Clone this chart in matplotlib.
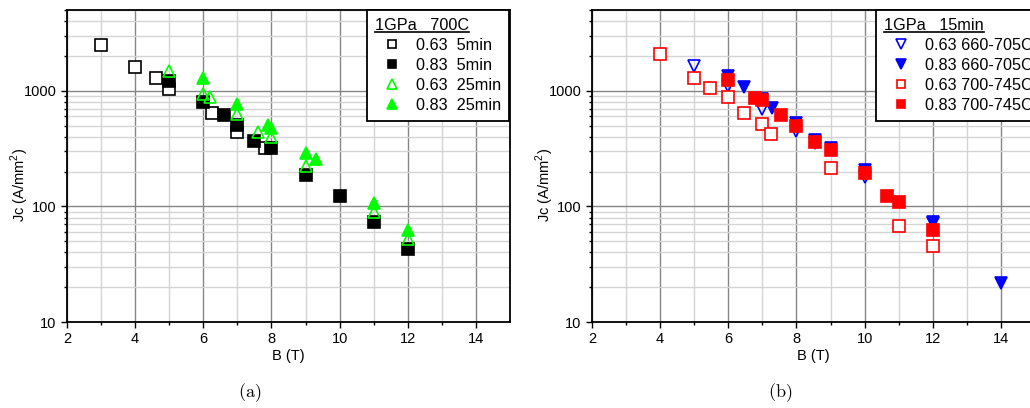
import matplotlib
matplotlib.use("Agg")
import matplotlib.pyplot as plt
from matplotlib.ticker import FixedLocator, NullFormatter, FuncFormatter
from matplotlib.lines import Line2D

plt.rcParams['font.family'] = ['Liberation Sans', 'DejaVu Sans']
plt.rcParams['mathtext.fontset'] = 'custom'
plt.rcParams['mathtext.rm'] = 'Liberation Sans'

# ---- data (a): 1GPa 700C ----
a_title = "1GPa   700C"
a_labels = ["0.63  5min", "0.83  5min", "0.63  25min", "0.83  25min"]
a_B_063_5 = [3, 4, 4.6, 5, 6.25, 7, 7.8]
a_J_063_5 = [2500, 1600, 1280, 1040, 640, 443, 318]
a_B_083_5 = [5, 6, 6.6, 7, 7.5, 8, 9, 10, 11, 12]
a_J_083_5 = [1220, 807, 615, 506, 370, 318, 188, 123, 74, 43]
a_B_063_25 = [5, 6, 6.2, 7, 7.6, 8, 9, 11, 12]
a_J_063_25 = [1470, 940, 880, 630, 440, 395, 223, 89, 52]
a_B_083_25 = [6, 7, 7.9, 8, 9, 9.3, 11, 12]
a_J_083_25 = [1300, 770, 506, 480, 291, 255, 107, 63]

# ---- data (b): 1GPa 15min ----
b_title = "1GPa   15min"
b_labels = ["0.63 660-705C", "0.83 660-705C", "0.63 700-745C", "0.83 700-745C"]
b_B_063_660 = [5, 6, 7, 8, 8.55, 10, 12]
b_J_063_660 = [1650, 1090, 697, 452, 355, 180, 72]
b_B_083_660 = [6, 6.47, 7, 7.28, 8, 8.55, 9, 10, 12, 14]
b_J_083_660 = [1330, 1069, 850, 716, 524, 375, 321, 205, 74, 21.7]
b_B_063_700 = [4, 5, 5.45, 6, 6.45, 7, 7.26, 9, 11, 12]
b_J_063_700 = [2070, 1290, 1062, 892, 647, 513, 425, 213, 68, 45]
b_B_083_700 = [6, 6.77, 7, 7.56, 8, 8.55, 9, 10, 10.65, 11, 12]
b_J_083_700 = [1247, 864, 835, 615, 496, 363, 307, 195, 123, 110, 63]

x_ticks = [2, 4, 6, 8, 10, 12, 14]
x_minor = [3, 5, 7, 9, 11, 13]
y_ticks = [10, 100, 1000]

W, H = 1030, 408
fig = plt.figure(figsize=(W / 100, H / 100), dpi=100)

def px_axes(l, r, t, b):
    return fig.add_axes([l / W, 1 - b / H, (r - l) / W, (b - t) / H])

ax1 = px_axes(67, 510, 10, 322)
ax2 = px_axes(592, 1035, 10, 322)

def style(ax):
    ax.set_yscale('log')
    ax.set_xlim(2, 15)
    ax.set_ylim(10, 5000)
    ax.xaxis.set_major_locator(FixedLocator(x_ticks))
    ax.xaxis.set_minor_locator(FixedLocator(x_minor))
    ax.yaxis.set_major_locator(FixedLocator(y_ticks))
    ax.yaxis.set_minor_locator(FixedLocator(
        [m * d for d in (10, 100, 1000) for m in range(2, 10) if m * d <= 5000]))
    ax.yaxis.set_major_formatter(FuncFormatter(lambda v, p: f"{int(v)}"))
    ax.yaxis.set_minor_formatter(NullFormatter())
    ax.grid(True, which='major', color='#858585', lw=1.0)
    ax.grid(True, which='minor', color='#d4d4d4', lw=1.0)
    ax.set_axisbelow(True)
    ax.tick_params(which='both', direction='out', labelsize=10.5, colors='black')
    ax.tick_params(which='major', length=4, width=1)
    ax.tick_params(which='minor', length=2.5, width=1)
    for s in ax.spines.values():
        s.set_linewidth(1.3)
        s.set_color('black')
    ax.set_xlabel("B (T)", fontsize=10.5, labelpad=2)
    ax.set_ylabel(r"Jc (A/mm$^2$)", fontsize=10.5)
    ax.yaxis.set_label_coords(-36 / 443, 0.44)

style(ax1)
style(ax2)

ms_sq = 8
ms_tri = 9
mew = 1.2

ax1.plot(a_B_063_5, a_J_063_5, 's', ms=ms_sq, mfc='white', mec='black', mew=mew, label=a_labels[0])
ax1.plot(a_B_083_5, a_J_083_5, 's', ms=ms_sq, mfc='black', mec='black', mew=mew, label=a_labels[1])
ax1.plot(a_B_063_25, a_J_063_25, '^', ms=ms_tri, mfc='none', mec='#00ff00', mew=mew, label=a_labels[2])
ax1.plot(a_B_083_25, a_J_083_25, '^', ms=ms_tri, mfc='#00ff00', mec='#00ff00', mew=mew, label=a_labels[3])

ax2.plot(b_B_063_660, b_J_063_660, 'v', ms=ms_tri, mfc='none', mec='#0000ff', mew=mew, label=b_labels[0])
ax2.plot(b_B_083_660, b_J_083_660, 'v', ms=ms_tri, mfc='#0000ff', mec='#0000ff', mew=mew, label=b_labels[1])
ax2.plot(b_B_063_700, b_J_063_700, 's', ms=ms_sq, mfc='white', mec='#ff0000', mew=mew, label=b_labels[2])
ax2.plot(b_B_083_700, b_J_083_700, 's', ms=ms_sq, mfc='#ff0000', mec='#ff0000', mew=mew, label=b_labels[3])

legs = []
for ax, title, left_px in ((ax1, a_title, 367), (ax2, b_title, 876)):
    leg = ax.legend(title=title, loc='upper left',
                    bbox_to_anchor=(left_px / W, 1 - 10 / H),
                    bbox_transform=fig.transFigure,
                    borderaxespad=0, fancybox=False,
                    framealpha=1, edgecolor='black', fontsize=11.7, title_fontsize=11.7,
                    numpoints=1, handlelength=2.1, handletextpad=0.4,
                    labelspacing=0.3, borderpad=0.5, alignment='left',
                    markerscale=0.78)
    leg.get_frame().set_linewidth(1.3)
    legs.append(leg)

fig.canvas.draw()
renderer = fig.canvas.get_renderer()
for leg in legs:
    bb = leg.get_title().get_window_extent(renderer)
    y = bb.y0 + 1
    fig.add_artist(Line2D([bb.x0 / W, bb.x1 / W], [y / H, y / H],
                          transform=fig.transFigure, color='black', lw=1.2))

fig.text(250 / W, 1 - 393 / H, r"$\mathrm{(a)}$", ha='center', va='center',
         fontsize=13, family='DejaVu Serif', math_fontfamily='cm')
fig.text(780 / W, 1 - 393 / H, r"$\mathrm{(b)}$", ha='center', va='center',
         fontsize=13, family='DejaVu Serif', math_fontfamily='cm')

fig.savefig("out.png", dpi=100)
